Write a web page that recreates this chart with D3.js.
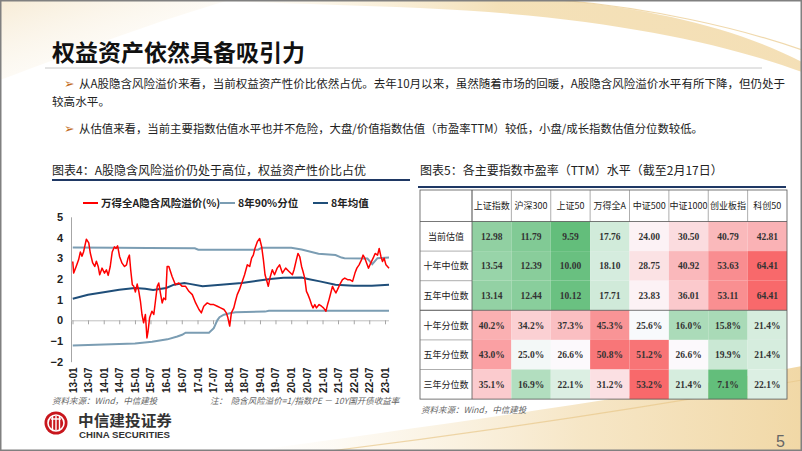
<!DOCTYPE html>
<html><head><meta charset="utf-8">
<script src="https://cdn.jsdelivr.net/npm/d3@7"></script>
<style>body{margin:0;background:#fff}svg{display:block}</style>
</head><body>
<svg id="c" width="802" height="451"></svg>
<script>
// ---------- data ----------
const premiumDates = ["2013-01-04","2013-01-15","2013-02-13","2013-03-13","2013-04-03","2013-04-22","2013-05-10","2013-06-12","2013-07-10","2013-07-28","2013-08-25","2013-09-18","2013-10-07","2013-10-28","2013-11-15","2013-12-12","2014-01-10","2014-02-01","2014-02-22","2014-03-18","2014-04-10","2014-05-06","2014-05-25","2014-06-12","2014-07-06","2014-08-03","2014-09-01","2014-09-24","2014-10-12","2014-10-28","2014-11-12","2014-12-01","2014-12-18","2015-01-06","2015-01-27","2015-02-15","2015-03-06","2015-03-24","2015-04-12","2015-05-03","2015-05-21","2015-06-03","2015-06-21","2015-07-18","2015-08-09","2015-08-28","2015-09-18","2015-10-06","2015-10-25","2015-11-15","2015-12-03","2015-12-25","2016-01-12","2016-02-01","2016-03-10","2016-04-18","2016-05-27","2016-07-06","2016-08-15","2016-09-22","2016-11-01","2016-12-10","2017-01-18","2017-02-15","2017-03-15","2017-04-25","2017-06-03","2017-07-10","2017-08-20","2017-09-28","2017-11-06","2017-12-04","2017-12-22","2018-01-12","2018-02-01","2018-03-01","2018-03-20","2018-04-10","2018-05-06","2018-06-08","2018-07-05","2018-08-06","2018-09-03","2018-09-25","2018-10-15","2018-11-03","2018-12-01","2018-12-28","2019-01-21","2019-02-10","2019-03-01","2019-03-18","2019-04-08","2019-04-27","2019-05-25","2019-06-20","2019-07-21","2019-08-18","2019-09-20","2019-10-28","2019-12-06","2020-01-15","2020-02-03","2020-03-01","2020-03-20","2020-04-10","2020-05-01","2020-05-18","2020-06-07","2020-06-27","2020-07-15","2020-08-06","2020-08-25","2020-09-12","2020-10-03","2020-10-22","2020-11-22","2020-12-20","2021-01-12","2021-02-10","2021-03-01","2021-03-18","2021-04-07","2021-04-27","2021-05-15","2021-06-06","2021-06-25","2021-07-21","2021-08-22","2021-09-18","2021-10-20","2021-11-15","2021-12-18","2022-01-15","2022-02-06","2022-03-04","2022-04-01","2022-04-20","2022-05-10","2022-06-01","2022-06-22","2022-07-18","2022-08-15","2022-09-08","2022-10-06","2022-10-25","2022-11-15","2022-12-03","2022-12-22","2023-01-12","2023-02-17"];
const premiumValues = [2.84,2.28,2.60,2.92,3.30,3.10,3.30,3.92,3.74,3.25,2.77,2.60,2.85,2.60,2.20,2.52,2.28,2.44,2.17,2.60,3.30,3.55,3.47,3.60,3.07,2.76,2.60,2.68,3.00,3.15,2.44,1.72,1.64,1.37,1.75,1.40,0.92,0.28,-0.12,0.28,-0.85,-0.53,0.12,0.44,0.28,0.92,1.64,1.80,1.32,0.84,1.08,1.00,2.60,2.60,2.12,1.72,1.80,1.64,1.64,1.40,1.24,0.84,0.52,0.36,0.68,0.84,0.76,0.76,0.68,0.60,0.52,0.36,0.12,-0.28,0.36,0.60,0.92,1.24,1.48,1.88,2.20,2.68,2.60,3.00,3.15,3.47,3.80,3.95,3.55,2.92,2.20,1.96,1.64,2.04,2.44,2.20,2.52,2.68,2.28,2.52,2.36,2.20,2.44,2.92,3.23,3.07,2.60,2.36,2.04,1.40,1.24,1.00,0.76,0.60,0.76,0.60,0.76,0.68,0.60,0.44,0.76,1.00,1.32,1.64,1.48,1.32,1.48,1.72,1.96,2.04,1.96,1.96,1.88,2.28,2.52,2.68,2.92,3.15,3.00,2.76,2.52,2.76,3.00,3.23,3.15,3.47,3.07,2.84,3.00,2.68,2.52];

const p90Dates = ["2013-01-04","2014-06-01","2015-06-01","2016-12-01","2017-01-10","2018-12-10","2019-01-20","2020-01-01","2020-05-01","2020-11-15","2021-06-01","2021-08-10","2021-09-15","2022-06-10","2022-08-05","2022-10-05","2023-02-17"];
const p90Values = [3.52,3.50,3.49,3.48,3.41,3.41,3.50,3.50,3.42,3.22,3.15,3.03,3.00,2.98,2.71,3.00,3.03];

const p10Dates = ["2013-01-04","2014-01-01","2015-01-01","2015-07-20","2016-01-15","2016-05-10","2016-07-05","2016-08-15","2017-05-15","2017-07-10","2017-08-20","2017-09-15","2017-11-05","2018-01-25","2018-03-20","2019-03-01","2019-04-15","2023-02-17"];
const p10Values = [-1.22,-1.17,-1.12,-1.04,-0.92,-0.78,-0.70,-0.60,-0.60,-0.38,0.00,0.15,0.27,0.35,0.39,0.42,0.46,0.46];

const meanDates = ["2013-01-04","2013-07-01","2014-01-01","2014-07-01","2015-01-01","2015-05-01","2015-08-01","2016-01-01","2016-04-01","2016-08-01","2016-10-01","2017-03-01","2017-10-01","2018-06-01","2018-12-01","2019-05-01","2019-10-01","2020-05-01","2020-07-15","2020-12-01","2021-06-01","2022-01-01","2022-08-01","2023-02-17"];
const meanValues = [1.04,1.23,1.36,1.48,1.56,1.52,1.47,1.56,1.72,1.80,1.76,1.64,1.72,1.80,1.91,2.00,2.06,2.07,2.00,1.88,1.72,1.67,1.67,1.72];

const xTickLabels = ["13-01","13-07","14-01","14-07","15-01","15-07","16-01","16-07","17-01","17-07","18-01","18-07","19-01","19-07","20-01","20-07","21-01","21-07","22-01","22-07","23-01"];
const yTickValues = [-2,-1,0,1,2,3,4,5];
const legendNames = ["万得全A隐含风险溢价(%)","8年90%分位","8年均值"];

const indexNames = ["上证指数","沪深300","上证50","万得全A","中证500","中证1000","创业板指","科创50"];
const rowNames = ["当前估值","十年中位数","五年中位数","十年分位数","五年分位数","三年分位数"];
const peCurrent = [12.98,11.79,9.59,17.76,24.00,30.50,40.79,42.81];
const peMedian10y = [13.54,12.39,10.00,18.10,28.75,40.92,53.63,64.41];
const peMedian5y = [13.14,12.44,10.12,17.71,23.83,36.01,53.11,64.41];
const pct10y = [40.2,34.2,37.3,45.3,25.6,16.0,15.8,21.4];
const pct5y = [43.0,25.0,26.6,50.8,51.2,26.6,19.9,21.4];
const pct3y = [35.1,16.9,22.1,31.2,53.2,21.4,7.1,22.1];

// ---------- page ----------
const svg = d3.select("#c");
const CJK = "'Noto Sans CJK SC','Noto Sans',sans-serif";
const defs = svg.append("defs");

const g1 = defs.append("linearGradient").attr("id","gTop").attr("x1","0").attr("x2","1").attr("y1","0").attr("y2","0");
g1.append("stop").attr("offset","0").attr("stop-color","#f6e6c4").attr("stop-opacity",0);
g1.append("stop").attr("offset","0.5").attr("stop-color","#f1d9a6").attr("stop-opacity",0.8);
g1.append("stop").attr("offset","1").attr("stop-color","#f3dcae").attr("stop-opacity",0.9);
const g2 = defs.append("linearGradient").attr("id","gBot").attr("x1","0").attr("x2","1").attr("y1","0").attr("y2","0");
g2.append("stop").attr("offset","0").attr("stop-color","#f7ead0").attr("stop-opacity",0);
g2.append("stop").attr("offset","0.6").attr("stop-color","#f4e0b8").attr("stop-opacity",0.8);
g2.append("stop").attr("offset","1").attr("stop-color","#f1d8a6").attr("stop-opacity",1);
const g3 = defs.append("linearGradient").attr("id","gLeft").attr("x1","0").attr("x2","1").attr("y1","0").attr("y2","1");
g3.append("stop").attr("offset","0").attr("stop-color","#f5e7cc").attr("stop-opacity",0.8);
g3.append("stop").attr("offset","1").attr("stop-color","#ffffff").attr("stop-opacity",0);

svg.append("rect").attr("width",802).attr("height",451).attr("fill","#fff");
// decorative swooshes
svg.append("path").attr("d","M0,0 L230,0 C160,20 80,50 0,80 Z").attr("fill","url(#gLeft)");
svg.append("path").attr("d","M200,0 L560,0 C660,10 740,30 802,62 L802,72 C720,42 600,16 420,8 C330,4 260,3 200,0 Z").attr("fill","url(#gTop)");
svg.append("path").attr("d","M560,0 C650,8 740,28 802,50").attr("fill","none").attr("stroke","#e9c98a").attr("stroke-width",1.2).attr("opacity",0.7);
svg.append("path").attr("d","M250,451 C420,428 620,400 802,366 L802,451 Z").attr("fill","url(#gBot)");
svg.append("path").attr("d","M330,451 C500,430 660,405 802,380").attr("fill","none").attr("stroke","#e8c88a").attr("stroke-width",1.2).attr("opacity",0.7);

// title
svg.append("text").attr("x",52).attr("y",61).attr("font-family",CJK).attr("font-weight",700)
  .attr("font-size",23).attr("fill","#111").text("权益资产依然具备吸引力");
svg.append("line").attr("x1",45).attr("x2",762).attr("y1",68).attr("y2",68).attr("stroke","#c8c8c8").attr("stroke-width",1);

// bullets
const bulletColor = "#c26a1e";
function bullet(x,y){svg.append("text").attr("x",x).attr("y",y).attr("font-size",12.5).attr("fill",bulletColor).attr("font-family","'DejaVu Sans',sans-serif").text("➢");}
bullet(64,88);
svg.append("text").attr("x",79).attr("y",88).attr("font-family",CJK).attr("font-size",11.6).attr("fill","#222")
  .attr("textLength",706).attr("lengthAdjust","spacingAndGlyphs")
  .text("从A股隐含风险溢价来看，当前权益资产性价比依然占优。去年10月以来，虽然随着市场的回暖，A股隐含风险溢价水平有所下降，但仍处于");
svg.append("text").attr("x",52).attr("y",106).attr("font-family",CJK).attr("font-size",11.6).attr("fill","#222").text("较高水平。");
bullet(64,133);
svg.append("text").attr("x",79).attr("y",133).attr("font-family",CJK).attr("font-size",11.6).attr("fill","#222")
  .attr("textLength",624).attr("lengthAdjust","spacingAndGlyphs")
  .text("从估值来看，当前主要指数估值水平也并不危险，大盘/价值指数估值（市盈率TTM）较低，小盘/成长指数估值分位数较低。");

// ---------- left chart ----------
svg.append("text").attr("x",52).attr("y",175).attr("font-family",CJK).attr("font-size",12).attr("fill","#222")
  .text("图表4：A股隐含风险溢价仍处于高位，权益资产性价比占优");
svg.append("line").attr("x1",52).attr("x2",410).attr("y1",180).attr("y2",180).attr("stroke","#1f3864").attr("stroke-width",2);

const parse = d3.timeParse("%Y-%m-%d");
const tickDates = xTickLabels.map(s=>new Date(2000+ +s.slice(0,2), +s.slice(3)-1, 1));
const x = d3.scaleTime().domain([tickDates[0], tickDates[tickDates.length-1]]).range([72.5,385]);
const y = d3.scaleLinear().domain([-2,5]).range([361.7,216.8]);

// y axis
const yAx = svg.append("g").attr("transform","translate(71,0)")
  .call(d3.axisLeft(y).tickValues(yTickValues).tickSize(0).tickPadding(8).tickFormat(d3.format("d")));
yAx.select(".domain").attr("stroke","#a6a6a6");
yAx.selectAll("text").attr("font-family","'Liberation Sans',Arial,sans-serif").attr("font-weight",700).attr("font-size",11).attr("fill","#222");

// x axis at zero line (ticks only)
const xAx = svg.append("g").attr("transform",`translate(0,${y(0)})`)
  .call(d3.axisBottom(x).tickValues(tickDates).tickSize(4).tickFormat(""));
xAx.select(".domain").attr("d",`M71,0.5H389`).attr("stroke","#bfbfbf");
xAx.selectAll(".tick line").attr("stroke","#a6a6a6");

// x labels at bottom (rotated)
const xLab = svg.append("g").attr("transform","translate(0,393)")
  .call(d3.axisBottom(x).tickValues(tickDates).tickSize(0).tickFormat((d,i)=>xTickLabels[i]));
xLab.select(".domain").remove();
xLab.selectAll("text").attr("transform","rotate(-90)").attr("text-anchor","start")
  .attr("x",0).attr("y",0).attr("dy","0.35em")
  .attr("font-family","'Liberation Sans',Arial,sans-serif").attr("font-weight",700).attr("font-size",10).attr("fill","#222");

function series(dates, vals){return dates.map((d,i)=>({d:parse(d),v:vals[i]}));}
const line = d3.line().x(p=>x(p.d)).y(p=>y(p.v));
svg.append("path").datum(series(p10Dates,p10Values)).attr("d",line).attr("fill","none").attr("stroke","#7b9db3").attr("stroke-width",2);
svg.append("path").datum(series(p90Dates,p90Values)).attr("d",line).attr("fill","none").attr("stroke","#7b9db3").attr("stroke-width",2);
svg.append("path").datum(series(meanDates,meanValues)).attr("d",line).attr("fill","none").attr("stroke","#1f4e79").attr("stroke-width",2);
svg.append("path").datum(series(premiumDates,premiumValues)).attr("d",line).attr("fill","none").attr("stroke","#ff0000").attr("stroke-width",1.5).attr("stroke-linejoin","round");

// legend
const legendColors = ["#ff0000","#7b9db3","#1f4e79"];
const legendX = [83,220,313];
legendNames.forEach((n,i)=>{
  svg.append("line").attr("x1",legendX[i]).attr("x2",legendX[i]+15).attr("y1",203).attr("y2",203).attr("stroke",legendColors[i]).attr("stroke-width",2);
  svg.append("text").attr("x",legendX[i]+18).attr("y",207).attr("font-family",CJK).attr("font-weight",700).attr("font-size",10.5).attr("fill","#222").text(n);
});

// sources
svg.append("text").attr("x",52).attr("y",404).attr("font-family",CJK).attr("font-style","italic").attr("font-size",8.5).attr("fill","#666").text("资料来源：Wind，中信建投");
svg.append("text").attr("x",210).attr("y",404).attr("font-family",CJK).attr("font-style","italic").attr("font-size",8.5).attr("fill","#666").attr("xml:space","preserve").text("注：  隐含风险溢价=1/指数PE － 10Y国开债收益率");

// logo
const lg = svg.append("g");
lg.append("circle").attr("cx",56).attr("cy",423).attr("r",11.5).attr("fill","#c8161d");
lg.append("circle").attr("cx",56).attr("cy",423).attr("r",8).attr("fill","none").attr("stroke","#fff").attr("stroke-width",1.6);
[-3.5,0,3.5].forEach(dx=>lg.append("line").attr("x1",56+dx).attr("x2",56+dx).attr("y1",416).attr("y2",430).attr("stroke","#fff").attr("stroke-width",1.4));
lg.append("line").attr("x1",51).attr("x2",61).attr("y1",419).attr("y2",419).attr("stroke","#fff").attr("stroke-width",1.4);
lg.append("text").attr("x",78).attr("y",426).attr("font-family",CJK).attr("font-weight",700).attr("font-size",15).attr("fill","#333")
  .attr("textLength",94).attr("lengthAdjust","spacingAndGlyphs").text("中信建投证券");
lg.append("text").attr("x",79).attr("y",438).attr("font-family","'Liberation Sans',Arial,sans-serif").attr("font-weight",700).attr("font-size",9.5).attr("fill","#333")
  .attr("textLength",91).attr("lengthAdjust","spacingAndGlyphs").text("CHINA SECURITIES");

// ---------- right table ----------
svg.append("text").attr("x",420).attr("y",175).attr("font-family",CJK).attr("font-size",12).attr("fill","#222")
  .text("图表5：各主要指数市盈率（TTM）水平（截至2月17日）");
svg.append("line").attr("x1",418).attr("x2",786).attr("y1",187).attr("y2",187).attr("stroke","#1f3864").attr("stroke-width",2);

const tX0 = 420, firstW = 52, tY0 = 190, headH = 31.5, rowH = 29.6;
const colX = d3.scaleBand().domain(indexNames).range([tX0+firstW, 787]);
const rowY = d3.scaleBand().domain(rowNames).range([tY0+headH, tY0+headH+rowH*6]);
const valueRows = [peCurrent, peMedian10y, peMedian5y];
const pctRows = [pct10y, pct5y, pct3y];
function excelScale(rows){
  const all = rows.flat().sort(d3.ascending);
  const mid = d3.quantile(all,0.5);
  return d3.scaleLinear().domain([all[0],mid,all[all.length-1]]).range(["#63be7b","#fcfcff","#f8696b"]);
}
const cVal = excelScale(valueRows), cPct = excelScale(pctRows);
const tbl = svg.append("g");
tbl.append("rect").attr("x",tX0).attr("y",tY0).attr("width",787-tX0).attr("height",headH).attr("fill","#fff");
indexNames.forEach(n=>{
  tbl.append("text").attr("x",colX(n)+colX.bandwidth()/2).attr("y",tY0+headH/2+3.5).attr("text-anchor","middle")
    .attr("font-family",CJK).attr("font-size",9).attr("fill","#222").text(n);
});
rowNames.forEach((r,ri)=>{
  const vals = ri<3 ? valueRows[ri] : pctRows[ri-3];
  const sc = ri<3 ? cVal : cPct;
  tbl.append("rect").attr("x",tX0).attr("y",rowY(r)).attr("width",firstW).attr("height",rowH).attr("fill","#fff");
  tbl.append("text").attr("x",tX0+firstW/2).attr("y",rowY(r)+rowH/2+3.5).attr("text-anchor","middle")
    .attr("font-family",CJK).attr("font-size",9).attr("fill","#222").text(r);
  vals.forEach((v,ci)=>{
    const cx = colX(indexNames[ci]);
    tbl.append("rect").attr("x",cx).attr("y",rowY(r)).attr("width",colX.bandwidth()).attr("height",rowH).attr("fill",sc(v));
    tbl.append("text").attr("x",cx+colX.bandwidth()/2).attr("y",rowY(r)+rowH/2+3.5).attr("text-anchor","middle")
      .attr("font-family","'Liberation Serif','DejaVu Serif',serif").attr("font-weight",700).attr("font-size",9.5).attr("fill","#333")
      .text(ri<3 ? v.toFixed(2) : v.toFixed(1)+"%");
  });
});
const tBottom = tY0+headH+rowH*6;
tbl.append("rect").attr("x",tX0).attr("y",tY0).attr("width",787-tX0).attr("height",tBottom-tY0).attr("fill","none").attr("stroke","#555").attr("stroke-width",0.8);
colX.domain().forEach(n=>tbl.append("line").attr("x1",colX(n)).attr("x2",colX(n)).attr("y1",tY0).attr("y2",tY0+headH).attr("stroke","#777").attr("stroke-width",0.6));
tbl.append("line").attr("x1",tX0+firstW).attr("x2",tX0+firstW).attr("y1",tY0).attr("y2",tBottom).attr("stroke","#555").attr("stroke-width",0.8);
tbl.append("line").attr("x1",tX0).attr("x2",787).attr("y1",tY0+headH).attr("y2",tY0+headH).attr("stroke","#555").attr("stroke-width",0.8);
rowNames.slice(1).forEach(r=>tbl.append("line").attr("x1",tX0).attr("x2",tX0+firstW).attr("y1",rowY(r)).attr("y2",rowY(r)).attr("stroke","#777").attr("stroke-width",0.6));
tbl.append("line").attr("x1",tX0).attr("x2",787).attr("y1",rowY(rowNames[3])).attr("y2",rowY(rowNames[3])).attr("stroke","#555").attr("stroke-width",0.8);

svg.append("text").attr("x",421).attr("y",413).attr("font-family",CJK).attr("font-style","italic").attr("font-size",8.5).attr("fill","#666").text("资料来源：Wind，中信建投");

// page number
svg.append("text").attr("x",776).attr("y",447).attr("font-family","'Liberation Sans',Arial,sans-serif").attr("font-size",16).attr("fill","#666").text("5");

// frame
svg.append("rect").attr("x",0.75).attr("y",0.75).attr("width",800.5).attr("height",449.5).attr("fill","none").attr("stroke","#808080").attr("stroke-width",1.5);
</script>
</body></html>
